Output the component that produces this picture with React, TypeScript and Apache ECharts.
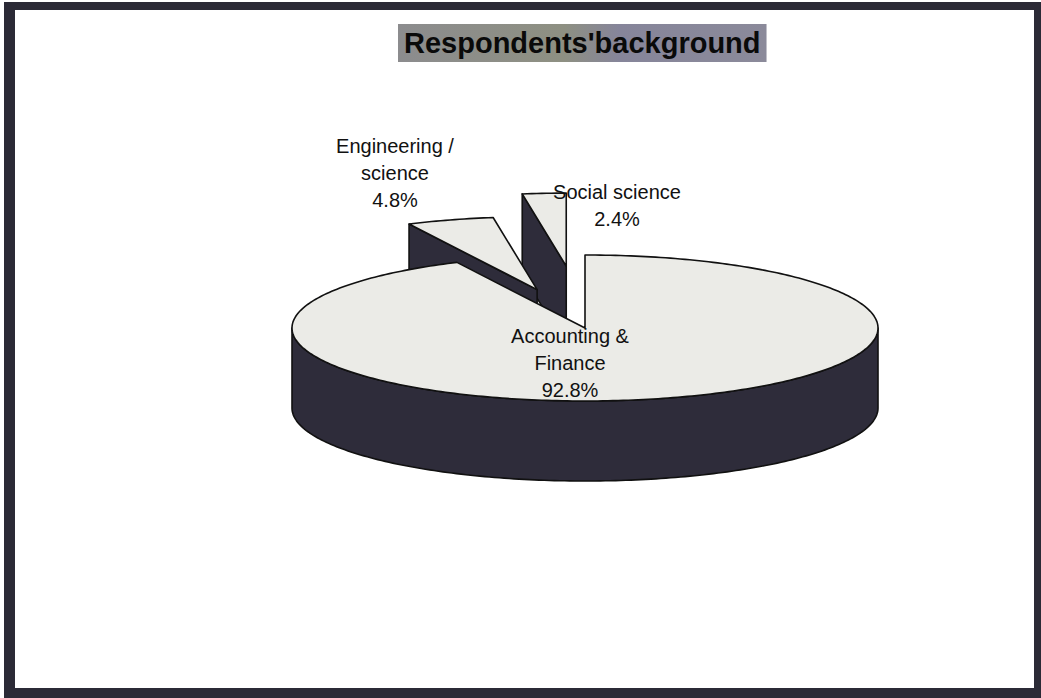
import React, { useEffect, useRef } from "react";
import * as echarts from "echarts";

// Respondents by academic background (share of respondents, %)
const CATEGORIES = ["Accounting &\nFinance", "Engineering /\nscience", "Social science"];
const SHARES = [92.8, 4.8, 2.4];
const TITLE = "Respondents'background";

// Layout of the 3D pie (pixels) and per-slice styling
const PIE = { cx: 585, cy: 328, rx: 293, ry: 73, depth: 80 };
const EXPLODE = [0, 0.55, 0.85];
const LABEL_AT: [number, number][] = [
  [570, 363],
  [395, 173],
  [617, 205],
];
const TOP_FILL = "#ebebe7";
const SIDE_FILL = "#2e2c3a";
const EDGE = "#111111";
const FONT = '"Liberation Sans", Arial, sans-serif';

const TAU = Math.PI * 2;

function buildData() {
  const total = SHARES.reduce((s, v) => s + v, 0);
  let acc = 0;
  const items = SHARES.map((v, i) => {
    const start = acc / total;
    acc += v;
    const end = acc / total;
    return { idx: i, start, end, name: CATEGORIES[i] };
  });
  // paint slices from the back of the pie towards the front
  const depthKey = (it: { start: number; end: number }) =>
    Math.cos(((it.start + it.end) / 2) * TAU);
  items.sort((p, q) => depthKey(q) - depthKey(p));
  return items.map((it) => ({ name: it.name, value: [it.idx, it.start, it.end] }));
}

function renderSlice(params: any, api: any) {
  const idx = api.value(0) as number;
  const a = (api.value(1) as number) * TAU;
  const b = (api.value(2) as number) * TAU;
  const mid = (a + b) / 2;
  const e = EXPLODE[idx];
  const ox = Math.sin(mid) * PIE.rx * e;
  const oy = -Math.cos(mid) * PIE.ry * e;
  const P = (t: number, r: number, dz = 0): number[] => [
    PIE.cx + ox + r * PIE.rx * Math.sin(t),
    PIE.cy + oy - r * PIE.ry * Math.cos(t) + dz,
  ];
  const arc = (t0: number, t1: number, dz: number) => {
    const n = Math.max(2, Math.ceil(Math.abs(t1 - t0) / (Math.PI / 180)));
    const pts: number[][] = [];
    for (let k = 0; k <= n; k++) pts.push(P(t0 + ((t1 - t0) * k) / n, 1, dz));
    return pts;
  };
  const edgeStyle = { stroke: EDGE, lineWidth: 1.6, lineJoin: "round" as const };
  const children: any[] = [];

  // outer rim, only the part that faces the viewer
  const lo = Math.max(a, Math.PI / 2);
  const hi = Math.min(b, (3 * Math.PI) / 2);
  if (hi > lo) {
    const pts = arc(lo, hi, 0).concat(arc(hi, lo, PIE.depth));
    children.push({ type: "polygon", shape: { points: pts }, style: { fill: SIDE_FILL, ...edgeStyle } });
  }
  // radial cut faces
  const radial = (t: number) => ({
    type: "polygon",
    shape: { points: [P(t, 0), P(t, 1), P(t, 1, PIE.depth), P(t, 0, PIE.depth)] },
    style: { fill: SIDE_FILL, ...edgeStyle },
  });
  if (Math.sin(a) < -1e-6) children.push(radial(a));
  if (Math.sin(b) > 1e-6) children.push(radial(b));

  // top face
  const top = [P(0, 0)].concat(arc(a, b, 0));
  children.push({ type: "polygon", shape: { points: top }, style: { fill: TOP_FILL, ...edgeStyle } });

  // data label
  const [lx, ly] = LABEL_AT[idx];
  children.push({
    type: "text",
    style: {
      text: `${CATEGORIES[idx]}\n${SHARES[idx].toFixed(1)}%`,
      x: lx,
      y: ly,
      fill: "#111111",
      fontSize: 20,
      fontFamily: FONT,
      lineHeight: 27,
      align: "center",
      verticalAlign: "middle",
    },
  });

  return { type: "group", children };
}

export default function App() {
  const ref = useRef<HTMLDivElement>(null);

  useEffect(() => {
    document.body.style.margin = "0";
    const chart = echarts.init(ref.current!, null, { renderer: "svg" });
    chart.setOption({
      animation: false,
      backgroundColor: "#ffffff",
      title: {
        text: TITLE,
        left: 398,
        top: 24,
        padding: [4, 6],
        backgroundColor: new echarts.graphic.LinearGradient(0, 0, 1, 0, [
          { offset: 0, color: "#8c8c8e" },
          { offset: 0.45, color: "#8e9082" },
          { offset: 0.6, color: "#86859a" },
          { offset: 1, color: "#8b8a9a" },
        ]),
        textStyle: {
          fontSize: 29,
          fontWeight: "bold",
          fontFamily: FONT,
          color: "#0a0a0a",
          lineHeight: 30,
        },
      },
      graphic: [
        {
          type: "rect",
          z: 0,
          shape: { x: 4, y: 2, width: 1037, height: 696 },
          style: { fill: "#2b2a36" },
        },
        {
          type: "rect",
          z: 0,
          shape: { x: 15, y: 10, width: 1019, height: 678 },
          style: { fill: "#ffffff" },
        },
      ],
      series: [
        {
          type: "custom",
          coordinateSystem: "none",
          renderItem: renderSlice,
          data: buildData(),
          silent: true,
          z: 2,
        },
      ],
    });
    return () => chart.dispose();
  }, []);

  return (
    <div
      ref={ref}
      style={{ position: "fixed", left: 0, top: 0, width: 1041, height: 698 }}
    />
  );
}
